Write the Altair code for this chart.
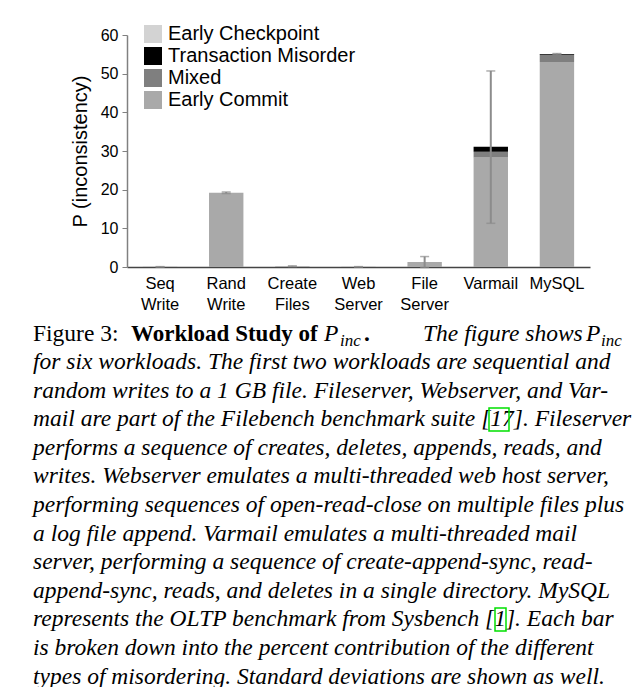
import altair as alt
import pandas as pd

workloads = ["Seq Write", "Rand Write", "Create Files", "Web Server", "File Server", "Varmail", "MySQL"]
types = ["Early Checkpoint", "Transaction Misorder", "Mixed", "Early Commit"]
colors = ["#d3d3d3", "#000000", "#7f7f7f", "#a9a9a9"]
early_commit = [0.05, 19.2, 0.2, 0.05, 1.3, 28.3, 53.0]
mixed = [0.0, 0.0, 0.0, 0.0, 0.0, 1.5, 1.9]
tx_misorder = [0.0, 0.0, 0.0, 0.0, 0.0, 1.3, 0.2]
early_ckpt = [0.0, 0.0, 0.0, 0.0, 0.0, 0.0, 0.0]
means = [0.05, 19.2, 0.2, 0.05, 1.3, 31.0, 55.1]
stds = [0.05, 0.2, 0.1, 0.05, 1.4, 19.7, 0.1]
y_ticks = [0, 10, 20, 30, 40, 50, 60]

caption_lines = [
    "for six workloads. The first two workloads are sequential and",
    "random writes to a 1 GB file.  Fileserver, Webserver, and Var-",
    "mail are part of the Filebench benchmark suite [17]. Fileserver",
    "performs a sequence of creates, deletes, appends, reads, and",
    "writes.  Webserver emulates a multi-threaded web host server,",
    "performing sequences of open-read-close on multiple files plus",
    "a log file append.  Varmail emulates a multi-threaded mail",
    "server, performing a sequence of create-append-sync, read-",
    "append-sync, reads, and deletes in a single directory. MySQL",
    "represents the OLTP benchmark from Sysbench [1]. Each bar",
    "is broken down into the percent contribution of the different",
    "types of misordering. Standard deviations are shown as well.",
]

rows = []
for i, w in enumerate(workloads):
    for t, vals, o in [("Early Commit", early_commit, 1), ("Mixed", mixed, 2),
                       ("Transaction Misorder", tx_misorder, 3), ("Early Checkpoint", early_ckpt, 4)]:
        rows.append({"workload": w, "type": t, "value": vals[i], "ord": o})
bars_df = pd.DataFrame(rows)
err_df = pd.DataFrame({"workload": workloads, "mean": means, "std": stds})
err_df["lo"] = err_df["mean"] - err_df["std"]
err_df["hi"] = err_df["mean"] + err_df["std"]

X0, Y0 = 127, 35
W, H = 463, 232

xscale = alt.Scale(domain=workloads, paddingInner=0.48, paddingOuter=0.24)
yscale = alt.Scale(domain=[0, 60], nice=False)

xaxis = alt.Axis(title=None, labelAngle=0, ticks=False, domainColor="#444444",
                 domainWidth=1.5, labelExpr="split(datum.label, ' ')",
                 labelFontSize=16.5, labelLineHeight=21, labelPadding=8,
                 labelColor="#000000", labelOverlap=False)
yaxis = alt.Axis(title="P (inconsistency)", values=y_ticks, tickCount=7,
                 grid=False, domainColor="#808080", domainWidth=1.5,
                 tickColor="#808080", tickSize=5, labelFontSize=16,
                 labelPadding=4, labelOverlap=False, labelFlush=False,
                 titleFontSize=20, titleFontWeight="normal",
                 titlePadding=10, labelColor="#000000", titleColor="#000000")

def X():
    return alt.X("workload:N", scale=xscale, sort=workloads, axis=xaxis)

bars = alt.Chart(bars_df).mark_bar().encode(
    x=X(),
    y=alt.Y("value:Q", stack="zero", scale=yscale, axis=yaxis),
    color=alt.Color("type:N", scale=alt.Scale(domain=types, range=colors),
                    legend=alt.Legend(title=None, orient="none", legendX=16, legendY=-11,
                                      symbolType="square", symbolSize=324,
                                      symbolStrokeWidth=0, labelFontSize=20,
                                      rowPadding=2, padding=0, labelOffset=5,
                                      labelLimit=0, labelColor="#000000")),
    order=alt.Order("ord:Q"),
)

rule = alt.Chart(err_df).mark_rule(color="#8c8c8c", strokeWidth=2).encode(
    x=X(),
    y=alt.Y("lo:Q", scale=yscale, axis=yaxis),
    y2="hi:Q",
)
cap_lo = alt.Chart(err_df).mark_tick(color="#8c8c8c", thickness=1.5, size=9).encode(
    x=X(),
    y=alt.Y("lo:Q", scale=yscale, axis=yaxis),
)
cap_hi = alt.Chart(err_df).mark_tick(color="#8c8c8c", thickness=1.5, size=9).encode(
    x=X(),
    y=alt.Y("hi:Q", scale=yscale, axis=yaxis),
)

SERIF = "Liberation Serif"
FS = 23.5

def txt(s, ax, ay, size=FS, style="normal", weight="normal"):
    return alt.Chart(pd.DataFrame({"t": [s]})).mark_text(
        font=SERIF, fontSize=size, fontStyle=style, fontWeight=weight,
        align="left", baseline="alphabetic", color="#000000"
    ).encode(text="t:N", x=alt.value(ax - X0), y=alt.value(ay - Y0))

def box(x1, x2, y1, y2):
    return alt.Chart(pd.DataFrame({"a": [0]})).mark_rect(
        filled=False, stroke="#00e000", strokeWidth=1.5
    ).encode(x=alt.value(x1 - X0), x2=alt.value(x2 - X0),
             y=alt.value(y1 - Y0), y2=alt.value(y2 - Y0))

cap = [
    txt("Figure 3:", 33, 341),
    txt("Workload Study of", 131, 341, size=23, weight="bold"),
    txt("P", 324, 341, style="italic"),
    txt("inc", 340, 346, size=17, style="italic"),
    txt(".", 364, 341, weight="bold"),
    txt("The figure shows", 423, 341, style="italic"),
    txt("P", 586, 341, style="italic"),
    txt("inc", 601, 346, size=17, style="italic"),
]
for i, line in enumerate(caption_lines):
    cap.append(txt(line, 33, 369 + i * 28.6, style="italic"))
cap.append(box(489, 509, 408, 431))
cap.append(box(495, 506, 608, 631))

chart = alt.layer(bars, rule, cap_lo, cap_hi, *cap).properties(
    width=W, height=H,
    autosize=alt.AutoSizeParams(type="none"),
    padding={"left": X0, "top": Y0, "right": 642 - X0 - W, "bottom": 687 - Y0 - H},
).configure(font="Liberation Sans").configure_view(stroke=None)

chart.save("out.html", embed_options={"renderer": "svg", "actions": False})
